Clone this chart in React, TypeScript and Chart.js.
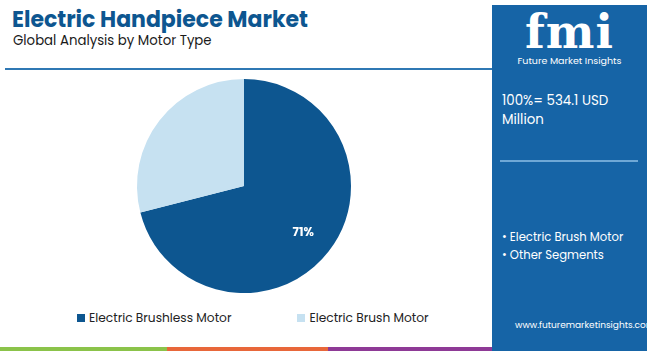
import React, { useEffect, useRef } from "react";
import { Chart, registerables } from "chart.js";

Chart.register(...registerables);

const categories = ["Electric Brushless Motor", "Electric Brush Motor"];
const shares = [71, 29];
const sliceColors = ["#0d5690", "#c6e1f1"];
const shownLabels = ["71%", ""];
const title = "Electric Handpiece Market";
const subtitle = "Global Analysis by Motor Type";
const totalText = ["100%= 534.1 USD", "Million"];
const panelSegments = ["Electric Brush Motor", "Other Segments"];
const url = "www.futuremarketinsights.com";

const FONT = "Poppins, 'Open Sans', Inter, sans-serif";

const labelPlugin = {
  id: "sliceLabels",
  afterDatasetsDraw(chart: any) {
    const ctx = chart.ctx;
    const meta = chart.getDatasetMeta(0);
    meta.data.forEach((arc: any, i: number) => {
      const txt = shownLabels[i];
      if (!txt) return;
      const p = arc.getProps(["x", "y", "startAngle", "endAngle", "outerRadius"], true);
      const mid = (p.startAngle + p.endAngle) / 2;
      const r = p.outerRadius * 0.7;
      ctx.save();
      ctx.fillStyle = "#ffffff";
      ctx.font = "bold 12px " + FONT;
      ctx.textAlign = "center";
      ctx.textBaseline = "middle";
      ctx.fillText(txt, p.x + Math.cos(mid) * r, p.y + Math.sin(mid) * r + 1);
      ctx.restore();
    });
  },
};

function PieChart() {
  const ref = useRef<HTMLCanvasElement | null>(null);
  useEffect(() => {
    if (!ref.current) return;
    const chart = new Chart(ref.current, {
      type: "pie",
      data: {
        labels: categories,
        datasets: [
          {
            data: shares,
            backgroundColor: sliceColors,
            borderWidth: 0,
          },
        ],
      },
      options: {
        animation: false,
        responsive: false,
        maintainAspectRatio: false,
        layout: { padding: { top: 4, bottom: 7, left: 0, right: 0 } },
        plugins: {
          legend: { display: false },
          tooltip: { enabled: false },
        },
      },
      plugins: [labelPlugin],
    });
    return () => chart.destroy();
  }, []);
  return (
    <canvas
      ref={ref}
      width={488}
      height={225}
      style={{ position: "absolute", left: 0, top: 75, width: 488, height: 225 }}
    />
  );
}

export default function App() {
  return (
    <div
      style={{
        position: "fixed",
        left: 0,
        top: 0,
        width: 650,
        height: 351,
        background: "#ffffff",
        overflow: "hidden",
        fontFamily: FONT,
      }}
    >
      <div
        style={{
          position: "absolute",
          left: 12,
          top: 3,
          fontSize: 22,
          fontWeight: 700,
          color: "#0d5690",
          whiteSpace: "nowrap",
        }}
      >
        {title}
      </div>
      <div
        style={{
          position: "absolute",
          left: 13,
          top: 31,
          fontSize: 13.3,
          color: "#1a1a1a",
          whiteSpace: "nowrap",
        }}
      >
        {subtitle}
      </div>
      <div
        style={{
          position: "absolute",
          left: 5,
          top: 68,
          width: 487,
          height: 2,
          background: "#2f78b4",
        }}
      />
      <PieChart />
      {/* legend */}
      <div
        style={{
          position: "absolute",
          left: 77,
          top: 309,
          display: "flex",
          alignItems: "center",
          fontSize: 12.2,
          color: "#222222",
          whiteSpace: "nowrap",
        }}
      >
        {categories.map((c, i) => (
          <div
            key={c}
            style={{ display: "flex", alignItems: "center", marginRight: i === 0 ? 66 : 0 }}
          >
            <span
              style={{
                display: "inline-block",
                width: 8,
                height: 8,
                background: sliceColors[i],
                marginRight: 4,
              }}
            />
            {c}
          </div>
        ))}
      </div>
      {/* bottom strip */}
      <div style={{ position: "absolute", left: 0, top: 347, width: 167, height: 4, background: "#8bc34a" }} />
      <div style={{ position: "absolute", left: 167, top: 347, width: 161, height: 4, background: "#e8673a" }} />
      <div style={{ position: "absolute", left: 328, top: 347, width: 164, height: 4, background: "#8e3a96" }} />
      {/* right panel */}
      <div
        style={{
          position: "absolute",
          left: 492,
          top: 5,
          width: 155,
          height: 346,
          background: "#1664a6",
          color: "#ffffff",
        }}
      >
        <div
          style={{
            position: "absolute",
            left: 0,
            top: 4,
            width: 155,
            textAlign: "center",
            fontFamily: "'DejaVu Serif', 'Liberation Serif', serif",
            fontWeight: 700,
            fontSize: 46,
            lineHeight: "46px",
            letterSpacing: 1,
          }}
        >
          fmi
        </div>
        <div
          style={{
            position: "absolute",
            left: 0,
            top: 49,
            width: 155,
            textAlign: "center",
            fontSize: 9.5,
            whiteSpace: "nowrap",
          }}
        >
          Future Market Insights
        </div>
        <div style={{ position: "absolute", left: 10, top: 86, fontSize: 13.4, lineHeight: "19px" }}>
          {totalText.map((t) => (
            <div key={t}>{t}</div>
          ))}
        </div>
        <div
          style={{
            position: "absolute",
            left: 8,
            top: 155,
            width: 138,
            height: 2,
            background: "#6fa8d6",
          }}
        />
        <div style={{ position: "absolute", left: 10, top: 224, fontSize: 11.6, lineHeight: "17.5px" }}>
          {panelSegments.map((s) => (
            <div key={s}>{"\u2022 " + s}</div>
          ))}
        </div>
        <div
          style={{
            position: "absolute",
            left: 23,
            top: 314,
            fontSize: 9,
            whiteSpace: "nowrap",
          }}
        >
          {url}
        </div>
      </div>
    </div>
  );
}
